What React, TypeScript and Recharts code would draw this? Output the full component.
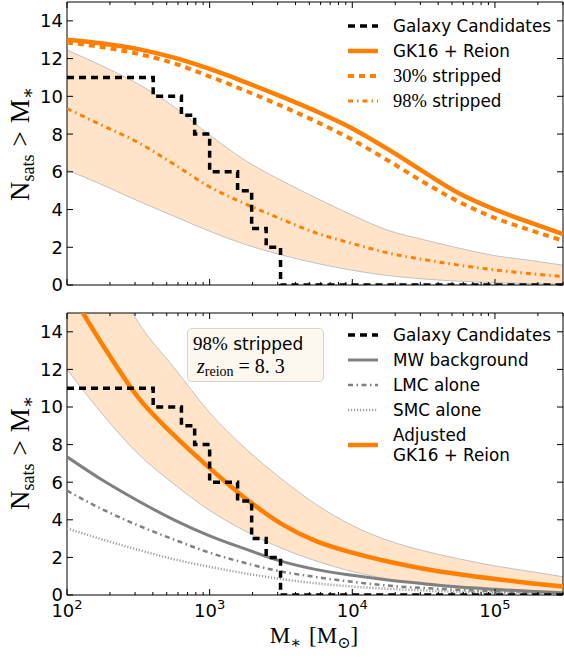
import React from 'react'
import { ComposedChart, Line, Area, XAxis, YAxis, ReferenceArea, Legend } from 'recharts'

// shared mass grid (Msun), log spaced
const massGrid = [100, 178, 316, 562, 1000, 1778, 3162, 5623, 10000, 17783, 31623, 56234, 100000, 177828, 300000]

// observed candidates, cumulative count above M*
const candMass = [100, 402, 634, 785, 1000, 1570, 1970, 2490, 3140, 300000]
const candCount = [11, 10, 9, 8, 6, 5, 3, 2, 0, 0]

// top panel
const gk16Reion = [13.0, 12.8, 12.5, 12.05, 11.45, 10.75, 10.0, 9.2, 8.3, 7.2, 6.0, 4.85, 4.0, 3.3, 2.7]
const stripped30 = [12.85, 12.6, 12.25, 11.75, 11.05, 10.3, 9.5, 8.65, 7.7, 6.6, 5.45, 4.4, 3.55, 2.9, 2.35]
const stripped98 = [9.35, 8.45, 7.55, 6.4, 5.2, 4.3, 3.5, 2.75, 2.2, 1.7, 1.35, 1.05, 0.8, 0.6, 0.45]
const band98Low = [6.1, 5.3, 4.45, 3.65, 2.85, 2.15, 1.6, 1.15, 0.78, 0.5, 0.32, 0.2, 0.13, 0.08, 0.05]
const band98High = [12.45, 11.6, 10.65, 9.45, 7.95, 6.6, 5.55, 4.6, 3.7, 2.9, 2.4, 1.95, 1.55, 1.3, 1.05]

// bottom panel
const adjGk16 = [16.4, 13.3, 10.5, 8.5, 6.75, 5.15, 3.8, 2.85, 2.25, 1.78, 1.4, 1.1, 0.85, 0.63, 0.45]
const adjLow = [12.0, 9.6, 7.5, 5.9, 4.5, 3.4, 2.5, 1.8, 1.25, 0.85, 0.55, 0.35, 0.22, 0.14, 0.09]
const adjHigh = [22.0, 18.0, 14.5, 12.1, 9.7, 7.8, 6.2, 4.8, 3.7, 2.9, 2.35, 1.92, 1.55, 1.25, 0.97]
const mwBackground = [7.35, 6.1, 5.0, 4.0, 3.15, 2.45, 1.8, 1.35, 1.05, 0.8, 0.6, 0.42, 0.3, 0.2, 0.12]
const lmcAlone = [5.55, 4.55, 3.7, 2.95, 2.25, 1.7, 1.25, 0.95, 0.7, 0.5, 0.37, 0.27, 0.2, 0.14, 0.1]
const smcAlone = [3.55, 2.95, 2.4, 1.9, 1.5, 1.15, 0.85, 0.62, 0.45, 0.33, 0.24, 0.17, 0.12, 0.08, 0.06]

const majorTicks = [100, 1000, 10000, 100000]
const minorTicks = [200, 300, 400, 500, 600, 700, 800, 900, 2000, 3000, 4000, 5000, 6000, 7000, 8000, 9000,
  20000, 30000, 40000, 50000, 60000, 70000, 80000, 90000, 200000, 300000]
const yTicks = [0, 2, 4, 6, 8, 10, 12, 14]

const candRows = candMass.map((m, i) => ({ mass: m, n: candCount[i] }))
const topRows = massGrid.map((m, i) => ({
  mass: m, gk16: gk16Reion[i], s30: stripped30[i], s98: stripped98[i], band: [band98Low[i], band98High[i]],
}))
const bottomRows = massGrid.map((m, i) => ({
  mass: m, adj: adjGk16[i], band: [adjLow[i], adjHigh[i]], mw: mwBackground[i], lmc: lmcAlone[i], smc: smcAlone[i],
}))

const ORANGE = '#ff7f00'
const GRAY = '#808080'
const sans = '"DejaVu Sans", sans-serif'
const serif = '"Liberation Serif", "DejaVu Serif", serif'
const PLOT_LEFT = 67
const PLOT_RIGHT = 563

function XTick(props: any) {
  const { x, payload, top, bottom, labels } = props
  const v = payload.value
  const major = majorTicks.includes(v)
  const len = major ? 6 : 3
  return (
    <g>
      <line x1={x} x2={x} y1={bottom} y2={bottom - len} stroke="#000" />
      <line x1={x} x2={x} y1={top} y2={top + len} stroke="#000" />
      {labels && major && (
        <text x={x} y={bottom + 22} textAnchor="middle" fontFamily={sans} fontSize={18} fill="#000">
          10<tspan dy={-8} fontSize={13}>{Math.round(Math.log10(v))}</tspan>
        </text>
      )}
    </g>
  )
}

function YTick(props: any) {
  const { y, payload } = props
  return (
    <g>
      <line x1={PLOT_LEFT} x2={PLOT_LEFT + 6} y1={y} y2={y} stroke="#000" />
      <line x1={PLOT_RIGHT} x2={PLOT_RIGHT - 6} y1={y} y2={y} stroke="#000" />
      <text x={PLOT_LEFT - 4} y={y} dy="0.36em" textAnchor="end" fontFamily={sans} fontSize={18} fill="#000">
        {payload.value}
      </text>
    </g>
  )
}

type LegendItem = { label: React.ReactNode; color: string; width: number; dash?: string; rows?: number }

function LegendBox({ items }: { items: LegendItem[] }) {
  return (
    <div style={{ fontFamily: sans, fontSize: 16.8, color: '#000' }}>
      {items.map((it, i) => (
        <div key={i} style={{ display: 'flex', alignItems: 'center', height: it.rows ? 20 * it.rows + 5 : 25 }}>
          <svg width={30} height={10} style={{ flex: 'none' }}>
            <line x1={0} x2={30} y1={5} y2={5} stroke={it.color} strokeWidth={it.width} strokeDasharray={it.dash} />
          </svg>
          <div style={{ marginLeft: 15, lineHeight: '20px', whiteSpace: 'nowrap' }}>{it.label}</div>
        </div>
      ))}
    </div>
  )
}

const topLegend: LegendItem[] = [
  { label: 'Galaxy Candidates', color: '#000', width: 3.5, dash: '7 5' },
  { label: 'GK16 + Reion', color: ORANGE, width: 4.5 },
  { label: <span><span style={{ fontFamily: serif, fontSize: 18.5 }}>30%</span> stripped</span>, color: ORANGE, width: 4, dash: '6 5' },
  { label: <span><span style={{ fontFamily: serif, fontSize: 18.5 }}>98%</span> stripped</span>, color: ORANGE, width: 3, dash: '5 4 1.5 4' },
]

const bottomLegend: LegendItem[] = [
  { label: 'Galaxy Candidates', color: '#000', width: 3.5, dash: '7 5' },
  { label: 'MW background', color: GRAY, width: 3 },
  { label: 'LMC alone', color: GRAY, width: 2.5, dash: '5 3.5 1.5 3.5' },
  { label: 'SMC alone', color: '#a0a0a0', width: 2.5, dash: '1.2 1.8' },
  { label: <span>Adjusted<br />GK16 + Reion</span>, color: ORANGE, width: 4.5, rows: 2 },
]

function YLabel({ cy }: { cy: number }) {
  return (
    <div style={{
      position: 'absolute', left: 20, top: cy, transform: 'translate(-50%, -50%) rotate(-90deg)',
      fontFamily: serif, fontSize: 27, whiteSpace: 'nowrap', lineHeight: 1,
    }}>
      N<span style={{ fontSize: 18, position: 'relative', top: 5 }}>sats</span>
      <span style={{ margin: '0 8px' }}>&gt;</span>
      M<span style={{ fontSize: 18, position: 'relative', top: 5 }}>∗</span>
    </div>
  )
}

function Frame() {
  return <ReferenceArea x1={100} x2={300000} y1={0} y2={15} fill="none" stroke="#000" strokeWidth={1} ifOverflow="visible" />
}

function TopChart() {
  return (
    <ComposedChart width={564} height={300} margin={{ top: 2, right: 1, bottom: 0, left: 0 }}>
      <XAxis dataKey="mass" type="number" scale="log" domain={[100, 300000]} allowDataOverflow
        ticks={[...majorTicks, ...minorTicks]} interval={0} height={15} tickLine={false} axisLine={false}
        tick={(p: any) => <XTick {...p} top={2} bottom={285} labels={false} />} />
      <YAxis type="number" domain={[0, 15]} allowDataOverflow ticks={yTicks} interval={0} width={67}
        tickLine={false} axisLine={false} tick={(p: any) => <YTick {...p} />} />
      <Area data={topRows} dataKey="band" type="monotone" stroke="#c2c2c2" strokeWidth={1} fill="#ffe4c9" fillOpacity={1} isAnimationActive={false} />
      <Line data={topRows} dataKey="gk16" type="monotone" stroke={ORANGE} strokeWidth={4.5} dot={false} isAnimationActive={false} />
      <Line data={topRows} dataKey="s30" type="monotone" stroke={ORANGE} strokeWidth={4} strokeDasharray="6 5" dot={false} isAnimationActive={false} />
      <Line data={topRows} dataKey="s98" type="monotone" stroke={ORANGE} strokeWidth={3} strokeDasharray="5 4 1.5 4" dot={false} isAnimationActive={false} />
      <Line data={candRows} dataKey="n" type="stepAfter" stroke="#000" strokeWidth={3.5} strokeDasharray="7 5" dot={false} isAnimationActive={false} />
      {Frame()}
      <Legend layout="horizontal" align="center" verticalAlign="middle"
        wrapperStyle={{ left: 348, top: 13, width: 215 }} content={() => <LegendBox items={topLegend} />} />
    </ComposedChart>
  )
}

function BottomChart() {
  return (
    <ComposedChart width={564} height={368} margin={{ top: 23, right: 1, bottom: 0, left: 0 }}>
      <XAxis dataKey="mass" type="number" scale="log" domain={[100, 300000]} allowDataOverflow
        ticks={[...majorTicks, ...minorTicks]} interval={0} height={63} tickLine={false} axisLine={false}
        tick={(p: any) => <XTick {...p} top={23} bottom={305} labels />} />
      <YAxis type="number" domain={[0, 15]} allowDataOverflow ticks={yTicks} interval={0} width={67}
        tickLine={false} axisLine={false} tick={(p: any) => <YTick {...p} />} />
      <Area data={bottomRows} dataKey="band" type="monotone" stroke="#c2c2c2" strokeWidth={1} fill="#ffe4c9" fillOpacity={1} isAnimationActive={false} />
      <Line data={bottomRows} dataKey="smc" type="monotone" stroke="#a0a0a0" strokeWidth={2.5} strokeDasharray="1.2 1.8" dot={false} isAnimationActive={false} />
      <Line data={bottomRows} dataKey="lmc" type="monotone" stroke={GRAY} strokeWidth={2.5} strokeDasharray="5 3.5 1.5 3.5" dot={false} isAnimationActive={false} />
      <Line data={bottomRows} dataKey="mw" type="monotone" stroke={GRAY} strokeWidth={3} dot={false} isAnimationActive={false} />
      <Line data={bottomRows} dataKey="adj" type="monotone" stroke={ORANGE} strokeWidth={4.5} dot={false} isAnimationActive={false} />
      <Line data={candRows} dataKey="n" type="stepAfter" stroke="#000" strokeWidth={3.5} strokeDasharray="7 5" dot={false} isAnimationActive={false} />
      {Frame()}
      <Legend layout="horizontal" align="center" verticalAlign="middle"
        wrapperStyle={{ left: 348, top: 32, width: 215 }} content={() => <LegendBox items={bottomLegend} />} />
    </ComposedChart>
  )
}

export default function App() {
  return (
    <div style={{ position: 'absolute', left: 0, top: 0, width: 564, height: 658, background: '#fff', overflow: 'hidden' }}>
      <div style={{ position: 'absolute', left: 0, top: 0 }}><TopChart /></div>
      <div style={{ position: 'absolute', left: 0, top: 290 }}><BottomChart /></div>
      <YLabel cy={144} />
      <YLabel cy={453} />
      <div style={{
        position: 'absolute', left: 187, top: 328, width: 137, height: 54, boxSizing: 'border-box',
        border: '1px solid #d9d2c5', borderRadius: 5, background: '#fcf7ef',
      }}>
        <div style={{ position: 'absolute', left: 5, top: 4, fontFamily: sans, fontSize: 17, whiteSpace: 'nowrap' }}>
          <span style={{ fontFamily: serif, fontSize: 19 }}>98%</span> stripped
        </div>
        <div style={{ position: 'absolute', left: 9, top: 26, fontFamily: serif, fontSize: 20, whiteSpace: 'nowrap' }}>
          <i>z</i><span style={{ fontSize: 14, position: 'relative', top: 3 }}>reion</span> = 8. 3
        </div>
      </div>
      <div style={{
        position: 'absolute', left: 314, top: 624, transform: 'translateX(-50%)', fontFamily: serif, fontSize: 23,
        whiteSpace: 'nowrap', lineHeight: 1,
      }}>
        M<span style={{ fontSize: 16, position: 'relative', top: 5 }}>∗</span>
        <span style={{ marginLeft: 8 }}>[M</span><span style={{ fontSize: 16, position: 'relative', top: 5 }}>⊙</span>]
      </div>
    </div>
  )
}
